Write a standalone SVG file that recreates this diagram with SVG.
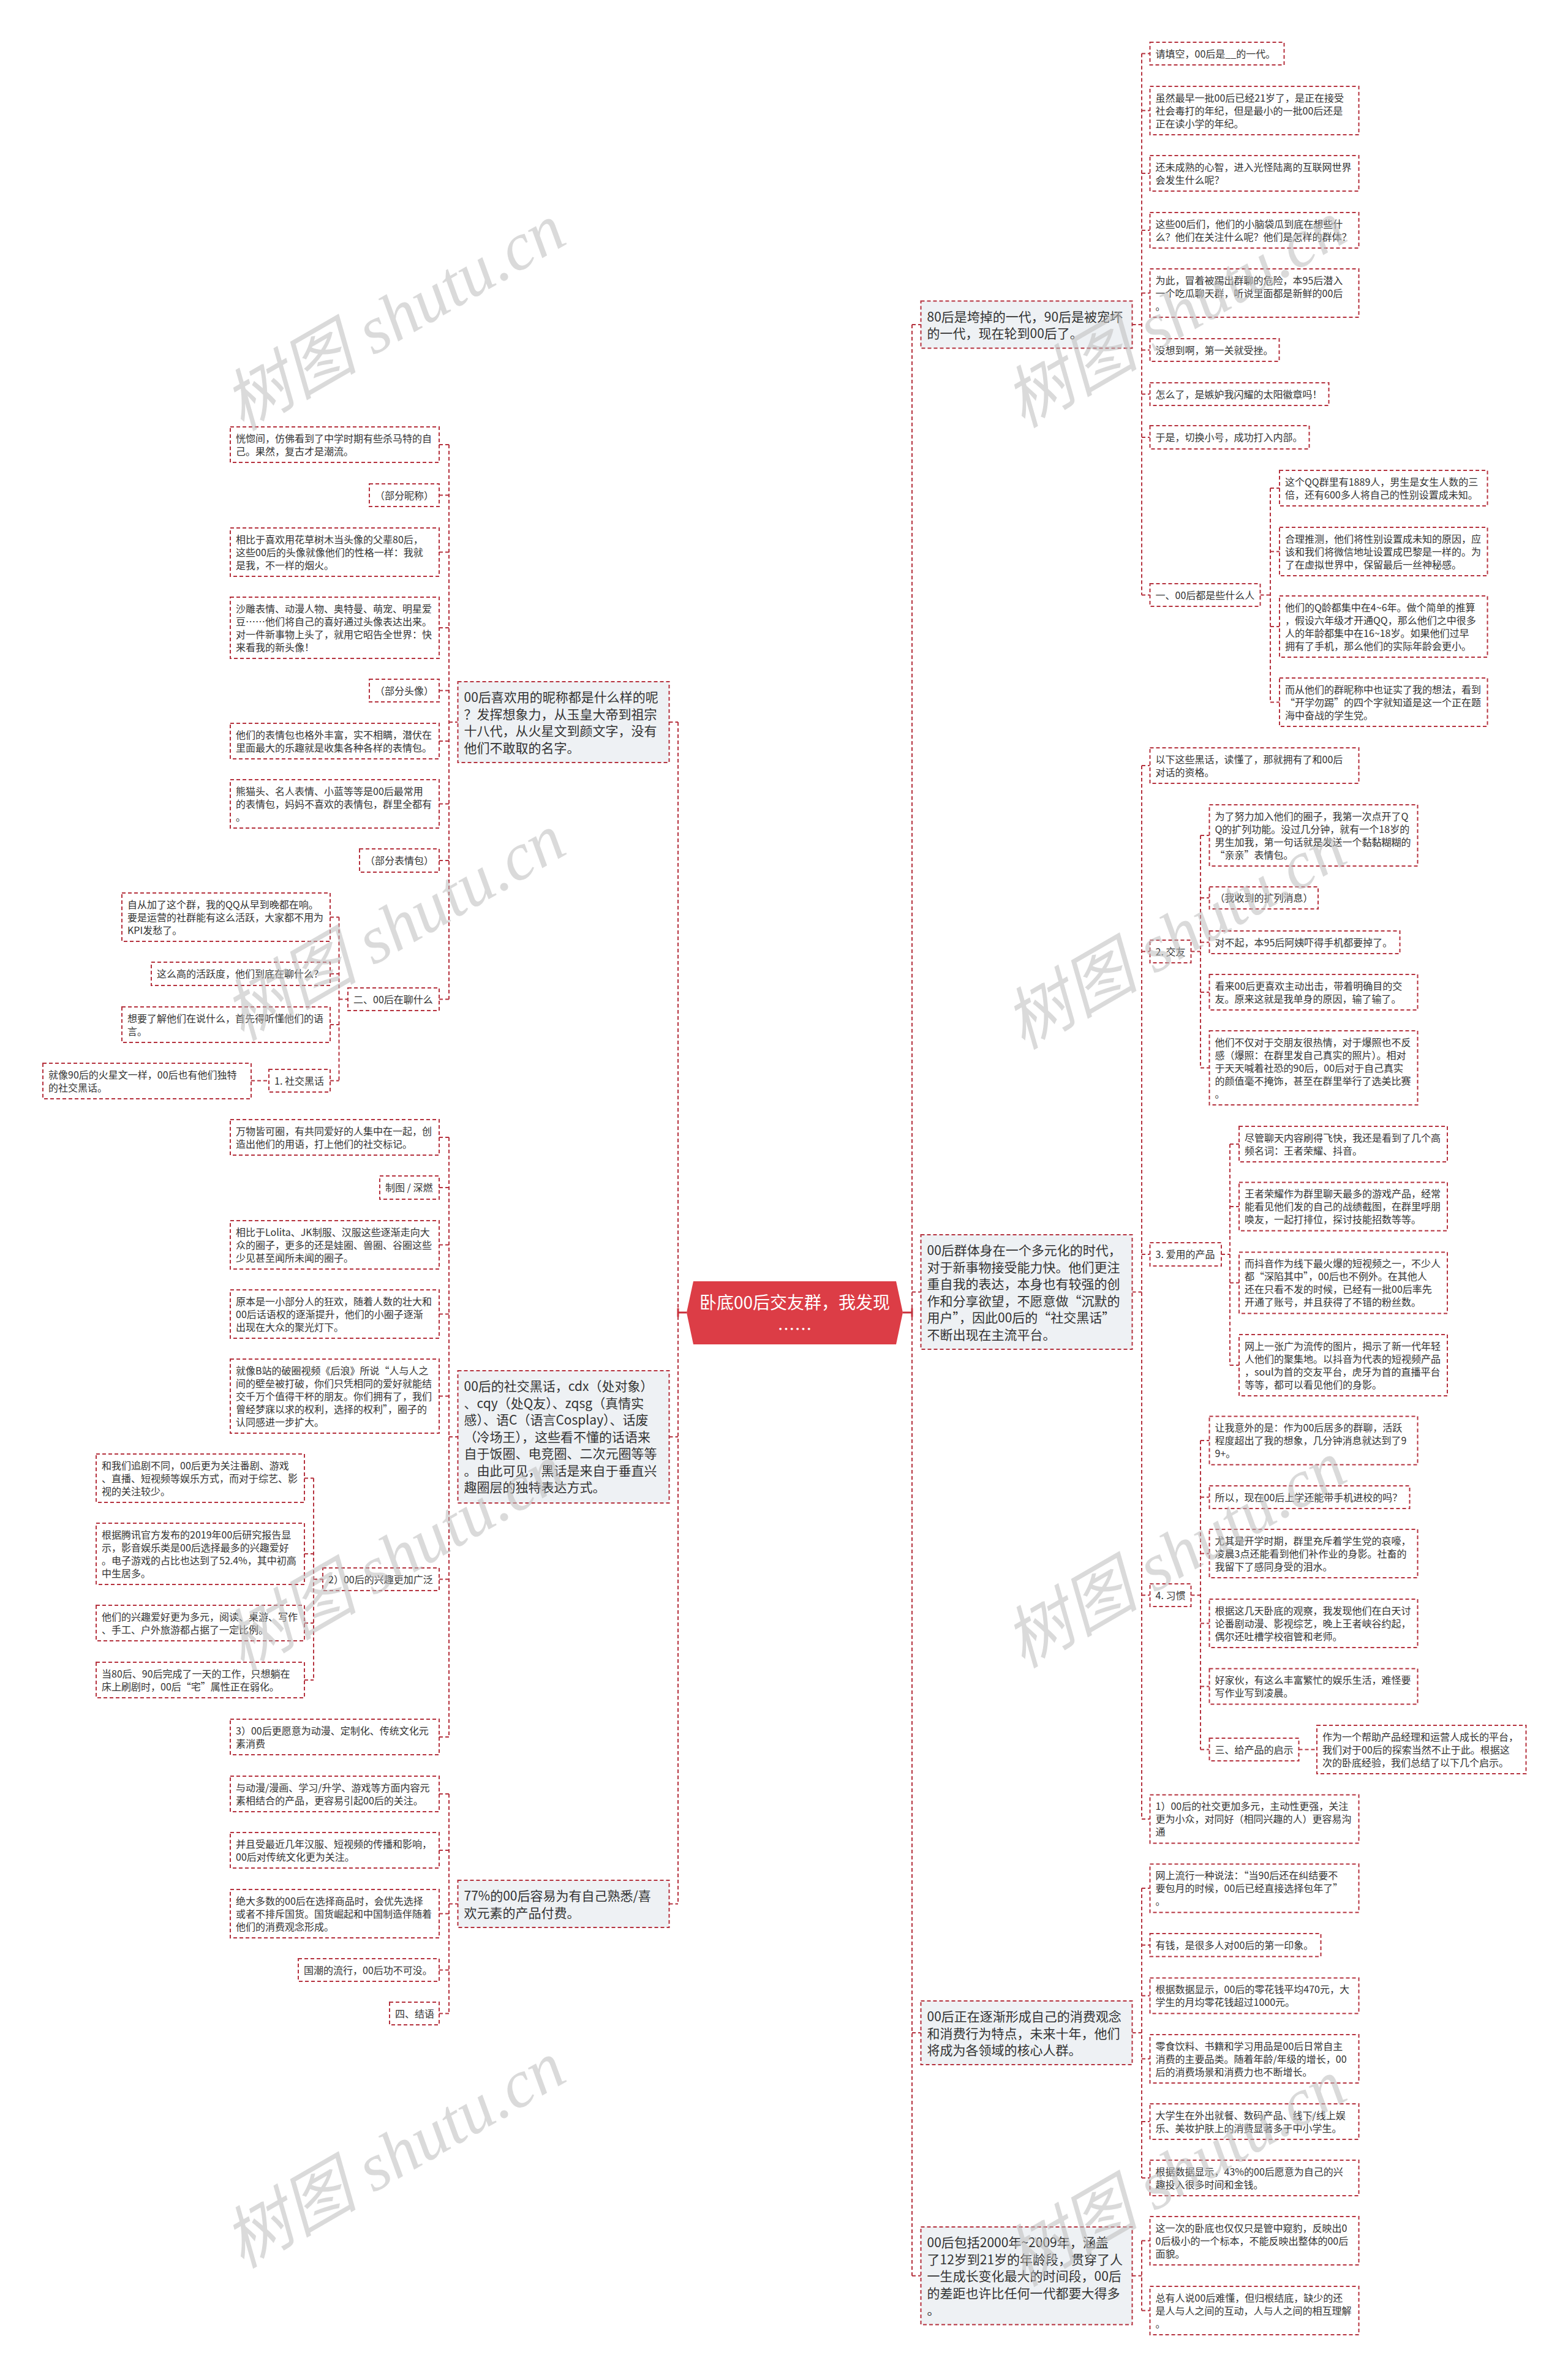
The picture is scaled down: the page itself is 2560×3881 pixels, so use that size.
<svg xmlns="http://www.w3.org/2000/svg" width="2560" height="3881" viewBox="0 0 2560 3881">
<style>
.box{fill:#fff;stroke:#b5323e;stroke-width:2;stroke-dasharray:6 4}
.big{fill:#eef1f4}
.t{font-family:"Noto Sans CJK SC","Microsoft YaHei",sans-serif;font-size:16px;fill:#333}
.tb{font-size:21px}
.c{fill:none;stroke:#b5323e;stroke-width:2;stroke-dasharray:6 4}
.cs{fill:none;stroke:#c9303b;stroke-width:3}
.wm{font-family:"Liberation Serif","Noto Sans CJK SC",serif;font-style:italic;font-size:110px;fill:#bdbdbd;opacity:.55}
</style>
<rect width="2560" height="3881" fill="#fff"/>
<g id="connectors">
<path class="c" d="M1107 1179V3108.5M1092.5 1179H1107M1092.5 2346H1107M1092.5 3108.5H1107"/>
<path class="cs" d="M1107 2143H1121M1474 2143H1489M1107 2136V2150M1489 2136V2150"/>
<path class="c" d="M733 726V1631.5M733 1179H747.5M717 726H733M717 808.5H733M717 901.5H733M717 1025H733M717 1127.5H733M717 1210H733M717 1312.5H733M717 1405H733M717 1631.5H733"/>
<path class="c" d="M553.5 1497.5V1764.5M553.5 1631.5H568M539 1497.5H553.5M539 1590H553.5M539 1673H553.5M539 1764.5H553.5M410 1764.5H439"/>
<path class="c" d="M733 1857V2836M733 2346H747.5M717 1857H733M717 1939H733M717 2032.5H733M717 2145.5H733M717 2279.5H733M717 2578.5H733M717 2836H733"/>
<path class="c" d="M512 2413.5V2743M512 2578.5H527M497 2413.5H512M497 2537H512M497 2650H512M497 2743H512"/>
<path class="c" d="M733 2929V3287.5M733 3108.5H747.5M717 2929H733M717 3021H733M717 3124.5H733M717 3216.5H733M717 3287.5H733"/>
<path class="c" d="M1489 530V3715.75M1489 530H1503.5M1489 2109.5H1503.5M1489 3319H1503.5M1489 3715.75H1503.5"/>
<path class="c" d="M1864 87.5V971.5M1848.5 530H1864M1864 87.5H1877.5M1864 180.5H1877.5M1864 283H1877.5M1864 376H1877.5M1864 478.5H1877.5M1864 571.5H1877.5M1864 643.5H1877.5M1864 714H1877.5M1864 971.5H1877.5"/>
<path class="c" d="M2074 797V1146.5M2057.5 971.5H2074M2074 797H2089M2074 900.5H2089M2074 1023H2089M2074 1146.5H2089"/>
<path class="c" d="M1864 1250V2970M1848.5 2109.5H1864M1864 1250H1877.5M1864 1553.5H1877.5M1864 2048H1877.5M1864 2604.5H1877.5M1864 2970H1877.5"/>
<path class="c" d="M1960 1364V1743.5M1944.5 1553.5H1960M1960 1364H1974.5M1960 1466H1974.5M1960 1538.5H1974.5M1960 1620H1974.5M1960 1743.5H1974.5"/>
<path class="c" d="M2008 1868V2229M1994 2048H2008M2008 1868H2023M2008 1970H2023M2008 2094.5H2023M2008 2229H2023"/>
<path class="c" d="M1960 2352V2856.5M1944.5 2604.5H1960M1960 2352H1974.5M1960 2444.5H1974.5M1960 2536.5H1974.5M1960 2650.5H1974.5M1960 2753.5H1974.5M1960 2856.5H1974.5M2120.5 2856.5H2150"/>
<path class="c" d="M1864 3083V3556M1848.5 3319H1864M1864 3083H1877.5M1864 3175.75H1877.5M1864 3258.5H1877.5M1864 3361.5H1877.5M1864 3464H1877.5M1864 3556H1877.5"/>
<path class="c" d="M1864 3658.5V3772.5M1848.5 3715.75H1864M1864 3658.5H1877.5M1864 3772.5H1877.5"/>
</g>
<g id="root"><polygon points="1121,2143 1132,2092 1463,2092 1474,2143 1463,2195 1132,2195" fill="#dc3d46"/><text class="t" x="1297.5" y="2137" text-anchor="middle" style="font-size:28px;fill:#fff">卧底00后交友群，我发现</text><text class="t" x="1297.5" y="2181" text-anchor="middle" style="font-size:28px;fill:#fff">……</text></g>

<g id="A"><rect class="box big" x="747.5" y="1113" width="345" height="132"/><text class="t tb" x="757.5" y="1146">00后喜欢用的昵称都是什么样的呢<tspan x="757.5" dy="27.5">？发挥想象力，从玉皇大帝到祖宗</tspan><tspan x="757.5" dy="27.5">十八代，从火星文到颜文字，没有</tspan><tspan x="757.5" dy="27.5">他们不敢取的名字。</tspan></text></g>
<g id="B"><rect class="box big" x="747.5" y="2238" width="345" height="216"/><text class="t tb" x="757.5" y="2271">00后的社交黑话，cdx（处对象）<tspan x="757.5" dy="27.5">、cqy（处Q友）、zqsg（真情实</tspan><tspan x="757.5" dy="27.5">感）、语C（语言Cosplay）、话废</tspan><tspan x="757.5" dy="27.5">（冷场王），这些看不懂的话语来</tspan><tspan x="757.5" dy="27.5">自于饭圈、电竞圈、二次元圈等等</tspan><tspan x="757.5" dy="27.5">。由此可见，黑话是来自于垂直兴</tspan><tspan x="757.5" dy="27.5">趣圈层的独特表达方式。</tspan></text></g>
<g id="C"><rect class="box big" x="747.5" y="3070" width="345" height="77"/><text class="t tb" x="757.5" y="3103">77%的00后容易为有自己熟悉/喜<tspan x="757.5" dy="27.5">欢元素的产品付费。</tspan></text></g>

<g id="L1"><rect class="box" x="376" y="697" width="341" height="58"/><text class="t" x="385" y="721.5">恍惚间，仿佛看到了中学时期有些杀马特的自<tspan x="385" dy="21">己。果然，复古才是潮流。</tspan></text></g>
<g id="L2"><rect class="box" x="603" y="790" width="114" height="37"/><text class="t" x="612" y="814.5">（部分昵称）</text></g>
<g id="L3"><rect class="box" x="376" y="862" width="341" height="79"/><text class="t" x="385" y="886.5">相比于喜欢用花草树木当头像的父辈80后，<tspan x="385" dy="21">这些00后的头像就像他们的性格一样：我就</tspan><tspan x="385" dy="21">是我，不一样的烟火。</tspan></text></g>
<g id="L4"><rect class="box" x="376" y="975" width="341" height="100"/><text class="t" x="385" y="999.5">沙雕表情、动漫人物、奥特曼、萌宠、明星爱<tspan x="385" dy="21">豆……他们将自己的喜好通过头像表达出来。</tspan><tspan x="385" dy="21">对一件新事物上头了，就用它昭告全世界：快</tspan><tspan x="385" dy="21">来看我的新头像！</tspan></text></g>
<g id="L5"><rect class="box" x="603" y="1109" width="114" height="37"/><text class="t" x="612" y="1133.5">（部分头像）</text></g>
<g id="L6"><rect class="box" x="376" y="1181" width="341" height="58"/><text class="t" x="385" y="1205.5">他们的表情包也格外丰富，实不相瞒，潜伏在<tspan x="385" dy="21">里面最大的乐趣就是收集各种各样的表情包。</tspan></text></g>
<g id="L7"><rect class="box" x="376" y="1273" width="341" height="79"/><text class="t" x="385" y="1297.5">熊猫头、名人表情、小蓝等等是00后最常用<tspan x="385" dy="21">的表情包，妈妈不喜欢的表情包，群里全都有</tspan><tspan x="385" dy="21">。</tspan></text></g>
<g id="L8"><rect class="box" x="587" y="1386" width="130" height="38"/><text class="t" x="596" y="1410.5">（部分表情包）</text></g>
<g id="L9"><rect class="box" x="568" y="1613" width="149" height="37"/><text class="t" x="577" y="1637.5">二、00后在聊什么</text></g>
<g id="L10"><rect class="box" x="199" y="1458" width="340" height="79"/><text class="t" x="208" y="1482.5">自从加了这个群，我的QQ从早到晚都在响。<tspan x="208" dy="21">要是运营的社群能有这么活跃，大家都不用为</tspan><tspan x="208" dy="21">KPI发愁了。</tspan></text></g>
<g id="L11"><rect class="box" x="247" y="1571" width="292" height="38"/><text class="t" x="256" y="1595.5">这么高的活跃度，他们到底在聊什么？</text></g>
<g id="L12"><rect class="box" x="199" y="1644" width="340" height="58"/><text class="t" x="208" y="1668.5">想要了解他们在说什么，首先得听懂他们的语<tspan x="208" dy="21">言。</tspan></text></g>
<g id="L13"><rect class="box" x="439" y="1746" width="100" height="37"/><text class="t" x="448" y="1770.5">1. 社交黑话</text></g>
<g id="L14"><rect class="box" x="70" y="1736" width="340" height="58"/><text class="t" x="79" y="1760.5">就像90后的火星文一样，00后也有他们独特<tspan x="79" dy="21">的社交黑话。</tspan></text></g>
<g id="L15"><rect class="box" x="376" y="1828" width="341" height="58"/><text class="t" x="385" y="1852.5">万物皆可圈，有共同爱好的人集中在一起，创<tspan x="385" dy="21">造出他们的用语，打上他们的社交标记。</tspan></text></g>
<g id="L16"><rect class="box" x="620" y="1920" width="97" height="38"/><text class="t" x="629" y="1944.5">制图 / 深燃</text></g>
<g id="L17"><rect class="box" x="376" y="1993" width="341" height="79"/><text class="t" x="385" y="2017.5">相比于Lolita、JK制服、汉服这些逐渐走向大<tspan x="385" dy="21">众的圈子，更多的还是娃圈、兽圈、谷圈这些</tspan><tspan x="385" dy="21">少见甚至闻所未闻的圈子。</tspan></text></g>
<g id="L18"><rect class="box" x="376" y="2106" width="341" height="79"/><text class="t" x="385" y="2130.5">原本是一小部分人的狂欢，随着人数的壮大和<tspan x="385" dy="21">00后话语权的逐渐提升，他们的小圈子逐渐</tspan><tspan x="385" dy="21">出现在大众的聚光灯下。</tspan></text></g>
<g id="L19"><rect class="box" x="376" y="2219" width="341" height="121"/><text class="t" x="385" y="2243.5">就像B站的破圈视频《后浪》所说“人与人之<tspan x="385" dy="21">间的壁垒被打破，你们只凭相同的爱好就能结</tspan><tspan x="385" dy="21">交千万个值得干杯的朋友。你们拥有了，我们</tspan><tspan x="385" dy="21">曾经梦寐以求的权利，选择的权利”，圈子的</tspan><tspan x="385" dy="21">认同感进一步扩大。</tspan></text></g>
<g id="L20"><rect class="box" x="157" y="2374" width="340" height="79"/><text class="t" x="166" y="2398.5">和我们追剧不同，00后更为关注番剧、游戏<tspan x="166" dy="21">、直播、短视频等娱乐方式，而对于综艺、影</tspan><tspan x="166" dy="21">视的关注较少。</tspan></text></g>
<g id="L21"><rect class="box" x="157" y="2487" width="340" height="100"/><text class="t" x="166" y="2511.5">根据腾讯官方发布的2019年00后研究报告显<tspan x="166" dy="21">示，影音娱乐类是00后选择最多的兴趣爱好</tspan><tspan x="166" dy="21">。电子游戏的占比也达到了52.4%，其中初高</tspan><tspan x="166" dy="21">中生居多。</tspan></text></g>
<g id="L22"><rect class="box" x="527" y="2560" width="190" height="37"/><text class="t" x="536" y="2584.5">2）00后的兴趣更加广泛</text></g>
<g id="L23"><rect class="box" x="157" y="2621" width="340" height="58"/><text class="t" x="166" y="2645.5">他们的兴趣爱好更为多元，阅读、桌游、写作<tspan x="166" dy="21">、手工、户外旅游都占据了一定比例。</tspan></text></g>
<g id="L24"><rect class="box" x="157" y="2714" width="340" height="58"/><text class="t" x="166" y="2738.5">当80后、90后完成了一天的工作，只想躺在<tspan x="166" dy="21">床上刷剧时，00后“宅”属性正在弱化。</tspan></text></g>
<g id="L25"><rect class="box" x="376" y="2807" width="341" height="58"/><text class="t" x="385" y="2831.5">3）00后更愿意为动漫、定制化、传统文化元<tspan x="385" dy="21">素消费</tspan></text></g>
<g id="L26"><rect class="box" x="376" y="2900" width="341" height="58"/><text class="t" x="385" y="2924.5">与动漫/漫画、学习/升学、游戏等方面内容元<tspan x="385" dy="21">素相结合的产品，更容易引起00后的关注。</tspan></text></g>
<g id="L27"><rect class="box" x="376" y="2992" width="341" height="58"/><text class="t" x="385" y="3016.5">并且受最近几年汉服、短视频的传播和影响，<tspan x="385" dy="21">00后对传统文化更为关注。</tspan></text></g>
<g id="L28"><rect class="box" x="376" y="3085" width="341" height="79"/><text class="t" x="385" y="3109.5">绝大多数的00后在选择商品时，会优先选择<tspan x="385" dy="21">或者不排斥国货。国货崛起和中国制造伴随着</tspan><tspan x="385" dy="21">他们的消费观念形成。</tspan></text></g>
<g id="L29"><rect class="box" x="487" y="3198" width="230" height="37"/><text class="t" x="496" y="3222.5">国潮的流行，00后功不可没。</text></g>
<g id="L30"><rect class="box" x="636" y="3269" width="81" height="37"/><text class="t" x="645" y="3293.5">四、结语</text></g>

<g id="R1"><rect class="box big" x="1503.5" y="491.5" width="345" height="77"/><text class="t tb" x="1513.5" y="524.5">80后是垮掉的一代，90后是被宠坏<tspan x="1513.5" dy="27.5">的一代，现在轮到00后了。</tspan></text></g>
<g id="R2"><rect class="box big" x="1503.5" y="2016" width="345" height="187"/><text class="t tb" x="1513.5" y="2049">00后群体身在一个多元化的时代，<tspan x="1513.5" dy="27.5">对于新事物接受能力快。他们更注</tspan><tspan x="1513.5" dy="27.5">重自我的表达，本身也有较强的创</tspan><tspan x="1513.5" dy="27.5">作和分享欲望，不愿意做“沉默的</tspan><tspan x="1513.5" dy="27.5">用户”，因此00后的“社交黑话”</tspan><tspan x="1513.5" dy="27.5">不断出现在主流平台。</tspan></text></g>
<g id="R3"><rect class="box big" x="1503.5" y="3267" width="345" height="104"/><text class="t tb" x="1513.5" y="3300">00后正在逐渐形成自己的消费观念<tspan x="1513.5" dy="27.5">和消费行为特点，未来十年，他们</tspan><tspan x="1513.5" dy="27.5">将成为各领域的核心人群。</tspan></text></g>
<g id="R4"><rect class="box big" x="1503.5" y="3636" width="345" height="159.5"/><text class="t tb" x="1513.5" y="3669">00后包括2000年~2009年，涵盖<tspan x="1513.5" dy="27.5">了12岁到21岁的年龄段，贯穿了人</tspan><tspan x="1513.5" dy="27.5">一生成长变化最大的时间段，00后</tspan><tspan x="1513.5" dy="27.5">的差距也许比任何一代都要大得多</tspan><tspan x="1513.5" dy="27.5">。</tspan></text></g>

<g id="r1"><rect class="box" x="1877.5" y="69" width="219" height="37"/><text class="t" x="1886.5" y="93.5">请填空，00后是__的一代。</text></g>
<g id="r2"><rect class="box" x="1877.5" y="141" width="341" height="79"/><text class="t" x="1886.5" y="165.5">虽然最早一批00后已经21岁了，是正在接受<tspan x="1886.5" dy="21">社会毒打的年纪，但是最小的一批00后还是</tspan><tspan x="1886.5" dy="21">正在读小学的年纪。</tspan></text></g>
<g id="r3"><rect class="box" x="1877.5" y="254" width="341" height="58"/><text class="t" x="1886.5" y="278.5">还未成熟的心智，进入光怪陆离的互联网世界<tspan x="1886.5" dy="21">会发生什么呢？</tspan></text></g>
<g id="r4"><rect class="box" x="1877.5" y="347" width="341" height="58"/><text class="t" x="1886.5" y="371.5">这些00后们，他们的小脑袋瓜到底在想些什<tspan x="1886.5" dy="21">么？他们在关注什么呢？他们是怎样的群体？</tspan></text></g>
<g id="r5"><rect class="box" x="1877.5" y="439" width="341" height="79"/><text class="t" x="1886.5" y="463.5">为此，冒着被踢出群聊的危险，本95后潜入<tspan x="1886.5" dy="21">一个吃瓜聊天群，听说里面都是新鲜的00后</tspan><tspan x="1886.5" dy="21">。</tspan></text></g>
<g id="r6"><rect class="box" x="1877.5" y="553" width="211" height="37"/><text class="t" x="1886.5" y="577.5">没想到啊，第一关就受挫。</text></g>
<g id="r7"><rect class="box" x="1877.5" y="625" width="292" height="37"/><text class="t" x="1886.5" y="649.5">怎么了，是嫉妒我闪耀的太阳徽章吗！</text></g>
<g id="r8"><rect class="box" x="1877.5" y="695" width="260" height="38"/><text class="t" x="1886.5" y="719.5">于是，切换小号，成功打入内部。</text></g>
<g id="r9"><rect class="box" x="1877.5" y="953" width="180" height="37"/><text class="t" x="1886.5" y="977.5">一、00后都是些什么人</text></g>
<g id="r9a"><rect class="box" x="2089" y="768" width="339.5" height="58"/><text class="t" x="2098" y="792.5">这个QQ群里有1889人，男生是女生人数的三<tspan x="2098" dy="21">倍，还有600多人将自己的性别设置成未知。</tspan></text></g>
<g id="r9b"><rect class="box" x="2089" y="861" width="339.5" height="79"/><text class="t" x="2098" y="885.5">合理推测，他们将性别设置成未知的原因，应<tspan x="2098" dy="21">该和我们将微信地址设置成巴黎是一样的。为</tspan><tspan x="2098" dy="21">了在虚拟世界中，保留最后一丝神秘感。</tspan></text></g>
<g id="r9c"><rect class="box" x="2089" y="973" width="339.5" height="100"/><text class="t" x="2098" y="997.5">他们的Q龄都集中在4~6年。做个简单的推算<tspan x="2098" dy="21">，假设六年级才开通QQ，那么他们之中很多</tspan><tspan x="2098" dy="21">人的年龄都集中在16~18岁。如果他们过早</tspan><tspan x="2098" dy="21">拥有了手机，那么他们的实际年龄会更小。</tspan></text></g>
<g id="r9d"><rect class="box" x="2089" y="1107" width="339.5" height="79"/><text class="t" x="2098" y="1131.5">而从他们的群昵称中也证实了我的想法，看到<tspan x="2098" dy="21">“开学勿踢”的四个字就知道是这一个正在题</tspan><tspan x="2098" dy="21">海中奋战的学生党。</tspan></text></g>
<g id="r10"><rect class="box" x="1877.5" y="1221" width="341" height="58"/><text class="t" x="1886.5" y="1245.5">以下这些黑话，读懂了，那就拥有了和00后<tspan x="1886.5" dy="21">对话的资格。</tspan></text></g>
<g id="r11"><rect class="box" x="1877.5" y="1535" width="67" height="37"/><text class="t" x="1886.5" y="1559.5">2. 交友</text></g>
<g id="r11a"><rect class="box" x="1974.5" y="1314" width="340" height="100"/><text class="t" x="1983.5" y="1338.5">为了努力加入他们的圈子，我第一次点开了Q<tspan x="1983.5" dy="21">Q的扩列功能。没过几分钟，就有一个18岁的</tspan><tspan x="1983.5" dy="21">男生加我，第一句话就是发送一个黏黏糊糊的</tspan><tspan x="1983.5" dy="21">“亲亲”表情包。</tspan></text></g>
<g id="r11b"><rect class="box" x="1974.5" y="1448" width="177.5" height="36"/><text class="t" x="1983.5" y="1472">（我收到的扩列消息）</text></g>
<g id="r11c"><rect class="box" x="1974.5" y="1520" width="311" height="37"/><text class="t" x="1983.5" y="1544.5">对不起，本95后阿姨吓得手机都要掉了。</text></g>
<g id="r11d"><rect class="box" x="1974.5" y="1591" width="340" height="58"/><text class="t" x="1983.5" y="1615.5">看来00后更喜欢主动出击，带着明确目的交<tspan x="1983.5" dy="21">友。原来这就是我单身的原因，输了输了。</tspan></text></g>
<g id="r11e"><rect class="box" x="1974.5" y="1683" width="340" height="121"/><text class="t" x="1983.5" y="1707.5">他们不仅对于交朋友很热情，对于爆照也不反<tspan x="1983.5" dy="21">感（爆照：在群里发自己真实的照片）。相对</tspan><tspan x="1983.5" dy="21">于天天喊着社恐的90后，00后对于自己真实</tspan><tspan x="1983.5" dy="21">的颜值毫不掩饰，甚至在群里举行了选美比赛</tspan><tspan x="1983.5" dy="21">。</tspan></text></g>
<g id="r12"><rect class="box" x="1877.5" y="2029" width="116.5" height="38"/><text class="t" x="1886.5" y="2053.5">3. 爱用的产品</text></g>
<g id="r12a"><rect class="box" x="2023" y="1839" width="340" height="58"/><text class="t" x="2032" y="1863.5">尽管聊天内容刷得飞快，我还是看到了几个高<tspan x="2032" dy="21">频名词：王者荣耀、抖音。</tspan></text></g>
<g id="r12b"><rect class="box" x="2023" y="1930.5" width="340" height="79"/><text class="t" x="2032" y="1955">王者荣耀作为群里聊天最多的游戏产品，经常<tspan x="2032" dy="21">能看见他们发的自己的战绩截图，在群里呼朋</tspan><tspan x="2032" dy="21">唤友，一起打排位，探讨技能招数等等。</tspan></text></g>
<g id="r12c"><rect class="box" x="2023" y="2044.5" width="340" height="100"/><text class="t" x="2032" y="2069">而抖音作为线下最火爆的短视频之一，不少人<tspan x="2032" dy="21">都“深陷其中”，00后也不例外。在其他人</tspan><tspan x="2032" dy="21">还在只看不发的时候，已经有一批00后率先</tspan><tspan x="2032" dy="21">开通了账号，并且获得了不错的粉丝数。</tspan></text></g>
<g id="r12d"><rect class="box" x="2023" y="2179" width="340" height="100"/><text class="t" x="2032" y="2203.5">网上一张广为流传的图片，揭示了新一代年轻<tspan x="2032" dy="21">人他们的聚集地。以抖音为代表的短视频产品</tspan><tspan x="2032" dy="21">，soul为首的交友平台，虎牙为首的直播平台</tspan><tspan x="2032" dy="21">等等，都可以看见他们的身影。</tspan></text></g>
<g id="r13"><rect class="box" x="1877.5" y="2586" width="67" height="37"/><text class="t" x="1886.5" y="2610.5">4. 习惯</text></g>
<g id="r13a"><rect class="box" x="1974.5" y="2312.5" width="340" height="79"/><text class="t" x="1983.5" y="2337">让我意外的是：作为00后居多的群聊，活跃<tspan x="1983.5" dy="21">程度超出了我的想象，几分钟消息就达到了9</tspan><tspan x="1983.5" dy="21">9+。</tspan></text></g>
<g id="r13b"><rect class="box" x="1974.5" y="2426" width="327" height="37"/><text class="t" x="1983.5" y="2450.5">所以，现在00后上学还能带手机进校的吗？</text></g>
<g id="r13c"><rect class="box" x="1974.5" y="2497" width="340" height="79"/><text class="t" x="1983.5" y="2521.5">尤其是开学时期，群里充斥着学生党的哀嚎，<tspan x="1983.5" dy="21">凌晨3点还能看到他们补作业的身影。社畜的</tspan><tspan x="1983.5" dy="21">我留下了感同身受的泪水。</tspan></text></g>
<g id="r13d"><rect class="box" x="1974.5" y="2611" width="340" height="79"/><text class="t" x="1983.5" y="2635.5">根据这几天卧底的观察，我发现他们在白天讨<tspan x="1983.5" dy="21">论番剧动漫、影视综艺，晚上王者峡谷约起，</tspan><tspan x="1983.5" dy="21">偶尔还吐槽学校宿管和老师。</tspan></text></g>
<g id="r13e"><rect class="box" x="1974.5" y="2724.5" width="340" height="58"/><text class="t" x="1983.5" y="2749">好家伙，有这么丰富繁忙的娱乐生活，难怪要<tspan x="1983.5" dy="21">写作业写到凌晨。</tspan></text></g>
<g id="r13f"><rect class="box" x="1974.5" y="2838" width="146" height="37"/><text class="t" x="1983.5" y="2862.5">三、给产品的启示</text></g>
<g id="r13g"><rect class="box" x="2150" y="2817" width="341.5" height="79"/><text class="t" x="2159" y="2841.5">作为一个帮助产品经理和运营人成长的平台，<tspan x="2159" dy="21">我们对于00后的探索当然不止于此。根据这</tspan><tspan x="2159" dy="21">次的卧底经验，我们总结了以下几个启示。</tspan></text></g>
<g id="r14"><rect class="box" x="1877.5" y="2930.5" width="341" height="79"/><text class="t" x="1886.5" y="2955">1）00后的社交更加多元，主动性更强，关注<tspan x="1886.5" dy="21">更为小众，对同好（相同兴趣的人）更容易沟</tspan><tspan x="1886.5" dy="21">通</tspan></text></g>
<g id="r15"><rect class="box" x="1877.5" y="3043.5" width="341" height="79"/><text class="t" x="1886.5" y="3068">网上流行一种说法：“当90后还在纠结要不<tspan x="1886.5" dy="21">要包月的时候，00后已经直接选择包年了”</tspan><tspan x="1886.5" dy="21">。</tspan></text></g>
<g id="r16"><rect class="box" x="1877.5" y="3157" width="279" height="37.5"/><text class="t" x="1886.5" y="3181.5">有钱，是很多人对00后的第一印象。</text></g>
<g id="r17"><rect class="box" x="1877.5" y="3229.5" width="341" height="58"/><text class="t" x="1886.5" y="3254">根据数据显示，00后的零花钱平均470元，大<tspan x="1886.5" dy="21">学生的月均零花钱超过1000元。</tspan></text></g>
<g id="r18"><rect class="box" x="1877.5" y="3322" width="341" height="79"/><text class="t" x="1886.5" y="3346.5">零食饮料、书籍和学习用品是00后日常自主<tspan x="1886.5" dy="21">消费的主要品类。随着年龄/年级的增长，00</tspan><tspan x="1886.5" dy="21">后的消费场景和消费力也不断增长。</tspan></text></g>
<g id="r19"><rect class="box" x="1877.5" y="3435" width="341" height="58"/><text class="t" x="1886.5" y="3459.5">大学生在外出就餐、数码产品、线下/线上娱<tspan x="1886.5" dy="21">乐、美妆护肤上的消费显著多于中小学生。</tspan></text></g>
<g id="r20"><rect class="box" x="1877.5" y="3527" width="341" height="58"/><text class="t" x="1886.5" y="3551.5">根据数据显示，43%的00后愿意为自己的兴<tspan x="1886.5" dy="21">趣投入很多时间和金钱。</tspan></text></g>
<g id="r21"><rect class="box" x="1877.5" y="3619" width="341" height="79"/><text class="t" x="1886.5" y="3643.5">这一次的卧底也仅仅只是管中窥豹，反映出0<tspan x="1886.5" dy="21">0后极小的一个标本，不能反映出整体的00后</tspan><tspan x="1886.5" dy="21">面貌。</tspan></text></g>
<g id="r22"><rect class="box" x="1877.5" y="3733" width="341" height="79"/><text class="t" x="1886.5" y="3757.5">总有人说00后难懂，但归根结底，缺少的还<tspan x="1886.5" dy="21">是人与人之间的互动，人与人之间的相互理解</tspan><tspan x="1886.5" dy="21">。</tspan></text></g>

<g id="watermarks">
<text class="wm" x="645" y="555" text-anchor="middle" transform="rotate(-30 645 520)">树图 shutu.cn</text>
<text class="wm" x="645" y="1551" text-anchor="middle" transform="rotate(-30 645 1516)">树图 shutu.cn</text>
<text class="wm" x="645" y="2580" text-anchor="middle" transform="rotate(-30 645 2545)">树图 shutu.cn</text>
<text class="wm" x="645" y="3555" text-anchor="middle" transform="rotate(-30 645 3520)">树图 shutu.cn</text>
<text class="wm" x="1920" y="550" text-anchor="middle" transform="rotate(-30 1920 515)">树图 shutu.cn</text>
<text class="wm" x="1920" y="1565" text-anchor="middle" transform="rotate(-30 1920 1530)">树图 shutu.cn</text>
<text class="wm" x="1920" y="2575" text-anchor="middle" transform="rotate(-30 1920 2540)">树图 shutu.cn</text>
<text class="wm" x="1920" y="3585" text-anchor="middle" transform="rotate(-30 1920 3550)">树图 shutu.cn</text>
</g>
</svg>
